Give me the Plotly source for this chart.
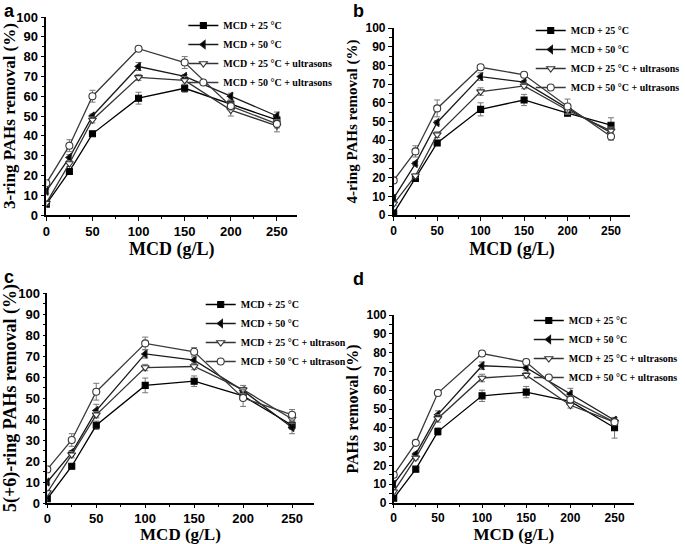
import plotly.graph_objects as go

W, H = 685, 544

mcd = [0, 25, 50, 100, 150, 200, 250]
series_names = ["MCD + 25 °C", "MCD + 50 °C", "MCD + 25 °C + ultrasons", "MCD + 50 °C + ultrasons"]
series_names_c = ["MCD + 25 °C", "MCD + 50 °C", "MCD + 25 °C + ultrason", "MCD + 50 °C + ultrason"]

# Panel a: 3-ring PAHs
a_25 = [5.5, 22, 41, 59, 64, 56, 48]
a_50 = [12, 29, 50, 75, 70, 60, 50]
a_25us = [6, 26, 48, 69.5, 68, 53, 45]
a_50us = [16, 35, 60, 84, 77, 55, 46]
a_err_25 = [1, 1, 1, 3, 2, 1.5, 1.5]
a_err_50 = [1, 1.5, 1, 2, 1, 1.5, 2]
a_err_25us = [1, 1.5, 1.5, 1.5, 2, 3, 3]
a_err_50us = [1, 3, 3, 1, 3, 2, 2]

# Panel b: 4-ring PAHs
b_25 = [1, 19.5, 38.5, 56.5, 61.5, 54.5, 48]
b_50 = [9, 27.5, 49.5, 74, 71, 57, 44]
b_25us = [6, 21, 43, 66, 69, 56, 45]
b_50us = [18.5, 34, 57, 79, 75, 58, 42]
b_err_25 = [1, 1, 1, 3.5, 3, 1.5, 4]
b_err_50 = [1, 1, 1, 2, 1, 1.5, 2]
b_err_25us = [1, 1, 1.5, 2, 1.5, 2, 2]
b_err_50us = [1, 3, 4.5, 1, 1, 4, 2]

# Panel c: 5(+6)-ring PAHs
c_25 = [2, 17.5, 37, 56, 58, 51, 37]
c_50 = [10, 24, 44, 71, 68, 53.5, 36]
c_25us = [5, 23, 42, 64.5, 65, 54, 40]
c_50us = [16, 30, 53, 76, 72, 50, 42]
c_err_25 = [1, 1, 2, 3.5, 2.5, 1.5, 2]
c_err_50 = [1, 1, 3, 2, 1.5, 1.5, 3]
c_err_25us = [1, 1.5, 1.5, 1.5, 1.5, 2, 2]
c_err_50us = [1, 3, 4, 3, 2, 4, 2.5]

# Panel d: total PAHs
d_25 = [2.5, 18, 38, 57, 59, 54, 40]
d_50 = [10, 26, 47, 73, 72, 58, 44]
d_25us = [6, 24, 45, 66.5, 68, 52, 43]
d_50us = [15, 32, 58.5, 79.5, 75, 55, 43]
d_err_25 = [1, 1, 2, 3, 3, 1.5, 5.5]
d_err_50 = [1, 1, 2, 2, 1.5, 3, 1.5]
d_err_25us = [1, 1, 2, 2, 1.5, 1.5, 1.5]
d_err_50us = [1, 1, 1.5, 1.5, 1.5, 2, 1.5]

panel_letters = ["a", "b", "c", "d"]
y_titles = ["3-ring PAHs removal (%)", "4-ring PAHs removal (%)",
            "5(+6)-ring PAHs removal (%)", "PAHs removal (%)"]
x_title = "MCD (g/L)"
y_ticks = list(range(0, 101, 10))
x_ticks = [0, 50, 100, 150, 200, 250]

panels = [
    ([a_25, a_50, a_25us, a_50us], [a_err_25, a_err_50, a_err_25us, a_err_50us], series_names),
    ([b_25, b_50, b_25us, b_50us], [b_err_25, b_err_50, b_err_25us, b_err_50us], series_names),
    ([c_25, c_50, c_25us, c_50us], [c_err_25, c_err_50, c_err_25us, c_err_50us], series_names_c),
    ([d_25, d_50, d_25us, d_50us], [d_err_25, d_err_50, d_err_25us, d_err_50us], series_names),
]

# styles
line_colors = ["#000000", "#1a1a1a", "#333333", "#3a3a3a"]
symbols = ["square", "triangle-left", "triangle-down", "circle"]
fills = ["#000000", "#000000", "#ffffff", "#ffffff"]
msizes = [6, 7, 7, 7]

# pixel geometry: (x0, x_end, y_bottom, y_top) in page pixels
geom = [
    (48, 308, 215, 17),
    (408, 653, 215, 28),
    (49, 325, 503, 293),
    (408, 657, 503, 315),
]
tick_sizes = [13, 12, 13, 12]
tick_lens = [4, 4, 3, 3]
ytitle_sizes = [17, 15, 18, 16]
xtitle_sizes = [18, 18, 17, 17]
xtitle_standoff = [3, 5, 1, 1]
legend_pos = [(190, 11), (550, 16), (208, 290), (548, 306)]
legend_fs = [10, 10, 10, 10]
letter_pos = [(3, 0), (365, 0), (3, 266), (365, 268)]

fig = go.Figure()
serif = "Liberation Serif, Times New Roman, serif"
sans = "Liberation Sans, Arial, sans-serif"

for p, (vals, errs, names) in enumerate(panels):
    sfx = "" if p == 0 else str(p + 1)
    leg = "legend" if p == 0 else "legend" + str(p + 1)
    for s in range(4):
        fig.add_trace(go.Scatter(
            x=mcd, y=vals[s], name=names[s], mode="lines+markers",
            xaxis="x" + sfx, yaxis="y" + sfx, legend=leg,
            line=dict(color=line_colors[s], width=1.3),
            marker=dict(symbol=symbols[s], size=msizes[s], color=fills[s],
                        line=dict(color=line_colors[s], width=1.1)),
            error_y=dict(type="data", array=errs[s], visible=True,
                         color="#777777", thickness=1, width=3),
        ))
    x0, x1, yb, yt = geom[p]
    axis_common = dict(showline=True, linecolor="black", linewidth=1.5,
                       ticks="outside", ticklen=tick_lens[p], tickwidth=1.2, tickcolor="black",
                       showgrid=False, zeroline=False, mirror=False, automargin=False,
                       tickfont=dict(family=sans, size=tick_sizes[p], color="black", weight="bold"))
    fig.layout["xaxis" + sfx] = dict(
        axis_common, domain=[x0 / W, x1 / W], range=[0, 272], anchor="y" + sfx,
        tickvals=x_ticks,
        minor=dict(dtick=25, tick0=0, ticks="outside", ticklen=2.5, tickcolor="black"),
        title=dict(text=x_title, standoff=xtitle_standoff[p],
                   font=dict(family=serif, size=xtitle_sizes[p], color="black", weight="bold")),
    )
    fig.layout["yaxis" + sfx] = dict(
        axis_common, domain=[1 - yb / H, 1 - yt / H], range=[0, 100], anchor="x" + sfx,
        tickvals=y_ticks,
        minor=dict(dtick=5, tick0=0, ticks="outside", ticklen=2.5, tickcolor="black"),
        title=dict(text=y_titles[p], standoff=4,
                   font=dict(family=serif, size=ytitle_sizes[p], color="black", weight="bold")),
    )
    lx, ly = legend_pos[p]
    fig.layout[leg] = dict(
        x=lx / W, y=1 - ly / H, xanchor="left", yanchor="top",
        bgcolor="rgba(0,0,0,0)", borderwidth=0, tracegroupgap=0,
        font=dict(family=serif, size=legend_fs[p], color="black", weight="bold"),
        itemwidth=30,
    )
    px_, py_ = letter_pos[p]
    fig.add_annotation(text=panel_letters[p], x=px_ / W, y=1 - py_ / H, xref="paper", yref="paper",
                       xanchor="left", yanchor="top", showarrow=False, borderpad=0,
                       font=dict(family=sans, size=18, color="black", weight="bold"))

fig.update_layout(
    width=W, height=H, margin=dict(l=0, r=0, t=0, b=0),
    paper_bgcolor="white", plot_bgcolor="white", showlegend=True,
)

fig.write_html("out.html", config={"displayModeBar": False},
               post_script="document.body.style.margin='0';document.body.style.overflow='hidden';")
